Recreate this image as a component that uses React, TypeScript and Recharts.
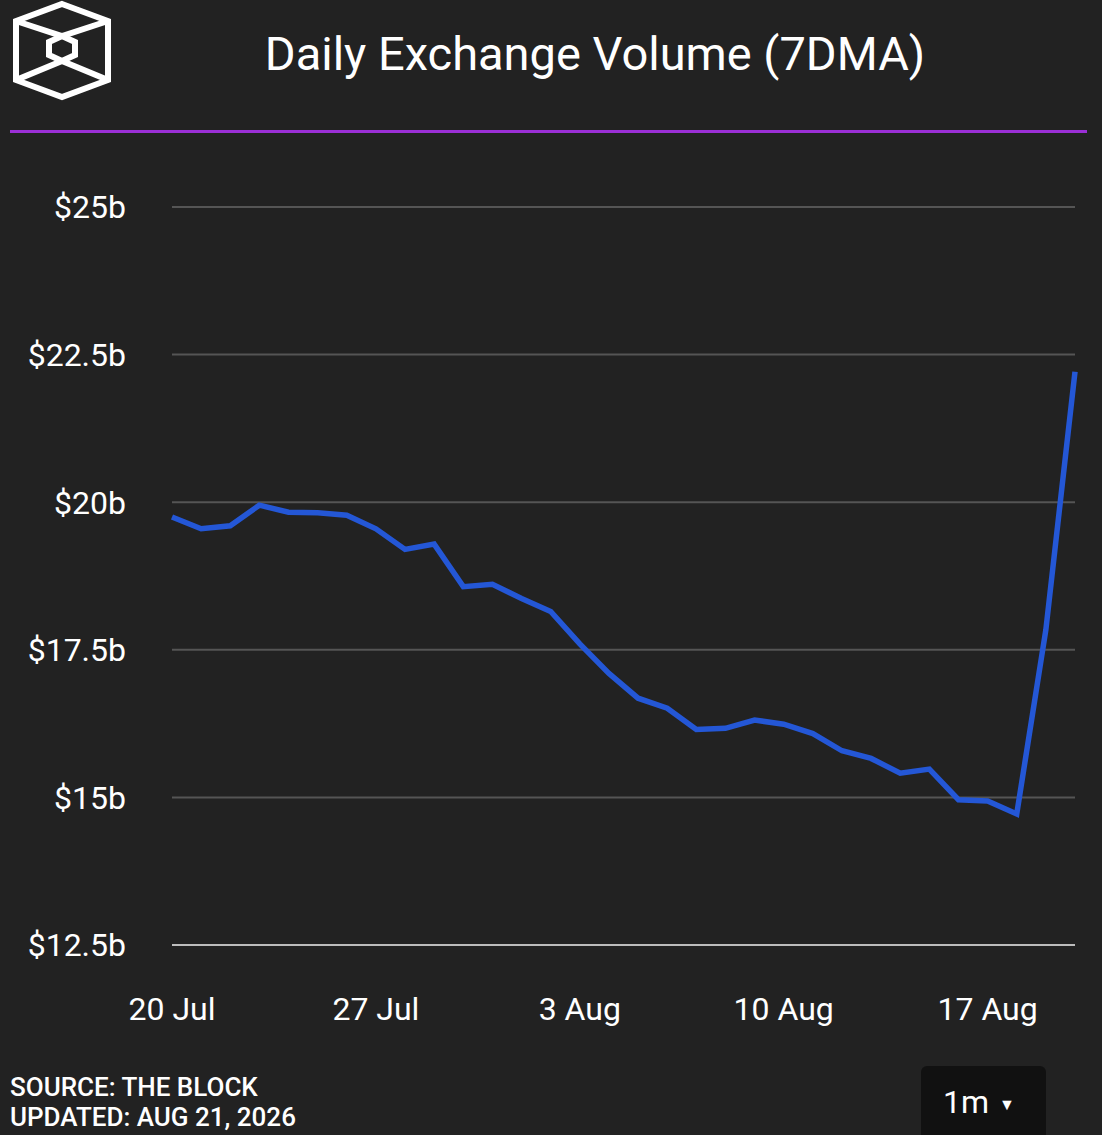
import React from "react";
import { LineChart, Line, XAxis, YAxis, CartesianGrid } from "recharts";

const dates = [
  "20 Jul", "21 Jul", "22 Jul", "23 Jul", "24 Jul", "25 Jul", "26 Jul",
  "27 Jul", "28 Jul", "29 Jul", "30 Jul", "31 Jul", "1 Aug", "2 Aug",
  "3 Aug", "4 Aug", "5 Aug", "6 Aug", "7 Aug", "8 Aug", "9 Aug",
  "10 Aug", "11 Aug", "12 Aug", "13 Aug", "14 Aug", "15 Aug", "16 Aug",
  "17 Aug", "18 Aug", "19 Aug", "20 Aug",
];

// 7-day moving average, billions USD
const volume = [
  19.75, 19.55, 19.6, 19.95, 19.83, 19.82, 19.78,
  19.55, 19.2, 19.29, 18.57, 18.61, 18.37, 18.15,
  17.6, 17.1, 16.68, 16.51, 16.15, 16.17, 16.31,
  16.24, 16.08, 15.79, 15.66, 15.41, 15.48, 14.96,
  14.94, 14.72, 17.84, 22.21,
];

const yTicks = [12.5, 15, 17.5, 20, 22.5, 25];

const chartData = dates.map((date, i) => ({ date, volume: volume[i] }));

const FONT = "Roboto, 'Noto Sans', sans-serif";

function formatBillions(value: number): string {
  return `$${value}b`;
}

function Logo() {
  return (
    <svg
      width={130}
      height={110}
      style={{ position: "absolute", left: 0, top: 0 }}
    >
      <g fill="none" stroke="#ffffff" strokeWidth={6} strokeLinejoin="miter">
        <polygon points="62,4 108,21 108,80 62,97 16,80 16,21" />
        <polyline points="16,21 62,36 108,21" />
        <polyline points="16,80 62,61 108,80" />
        <polygon points="62,36 75,42 75,55 62,61 49,55 49,42" />
      </g>
    </svg>
  );
}

export default function App() {
  return (
    <div
      style={{
        position: "absolute",
        left: 0,
        top: 0,
        width: 1102,
        height: 1135,
        background: "#222222",
        fontFamily: FONT,
        overflow: "hidden",
      }}
    >
      <Logo />
      <div
        style={{
          position: "absolute",
          left: 245,
          width: 700,
          top: 26,
          textAlign: "center",
          color: "#ffffff",
          fontSize: 47,
          lineHeight: "56px",
          whiteSpace: "nowrap",
        }}
      >
        Daily Exchange Volume (7DMA)
      </div>
      <div
        style={{
          position: "absolute",
          left: 10,
          top: 130,
          width: 1077,
          height: 3,
          background: "#9b2fd6",
        }}
      />
      <div style={{ position: "absolute", left: 0, top: 0 }}>
        <LineChart
          width={1102}
          height={1060}
          data={chartData}
          margin={{ top: 207, right: 27, left: 0, bottom: 0 }}
        >
          <CartesianGrid
            vertical={false}
            stroke="#555555"
            strokeWidth={2}
          />
          <XAxis
            dataKey="date"
            interval={6}
            height={115}
            tickLine={false}
            tickSize={0}
            tickMargin={52}
            axisLine={{ stroke: "#bdbdbd", strokeWidth: 2 }}
            tick={{ fill: "#ffffff", fontSize: 32, fontFamily: FONT }}
          />
          <YAxis
            domain={[12.5, 25]}
            ticks={yTicks}
            width={172}
            axisLine={false}
            tickLine={false}
            tickSize={0}
            tickMargin={46}
            tickFormatter={formatBillions}
            tick={{ fill: "#ffffff", fontSize: 32, fontFamily: FONT }}
          />
          <Line
            type="linear"
            dataKey="volume"
            stroke="#2457d6"
            strokeWidth={5.5}
            dot={false}
            isAnimationActive={false}
          />
        </LineChart>
      </div>
      <div
        style={{
          position: "absolute",
          left: 10,
          top: 1072,
          color: "#ffffff",
          fontSize: 26,
          fontWeight: 500,
          lineHeight: "30px",
          whiteSpace: "nowrap",
        }}
      >
        <div>SOURCE: THE BLOCK</div>
        <div>UPDATED: AUG 21, 2026</div>
      </div>
      <div
        style={{
          position: "absolute",
          left: 921,
          top: 1066,
          width: 125,
          height: 80,
          background: "#111111",
          borderRadius: 6,
          color: "#ffffff",
        }}
      >
        <span
          style={{
            position: "absolute",
            left: 22,
            top: 16,
            fontSize: 32,
            lineHeight: "40px",
          }}
        >
          1m
        </span>
        <span
          style={{
            position: "absolute",
            left: 78,
            top: 24,
            fontSize: 16,
            lineHeight: "30px",
          }}
        >
          ▼
        </span>
      </div>
    </div>
  );
}
